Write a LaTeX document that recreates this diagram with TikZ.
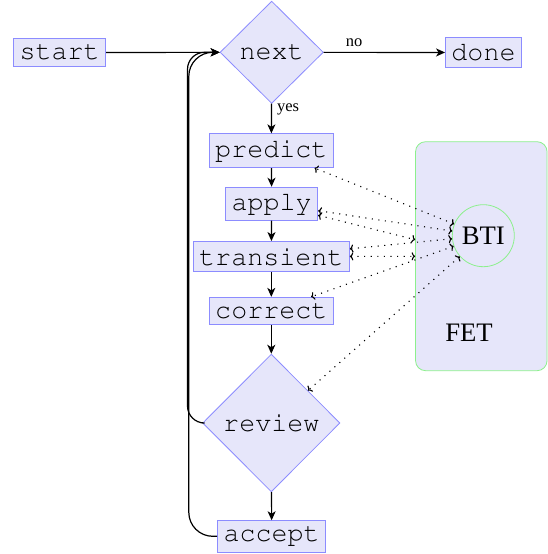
\documentclass[tikz,border=0pt]{standalone}
\usepackage{fontspec}
\setmainfont{Liberation Serif}
\setmonofont{Liberation Mono}
\usetikzlibrary{shapes.geometric,arrows.meta}
\definecolor{boxfill}{HTML}{E6E6FA}
\definecolor{boxdraw}{HTML}{8C8CFF}
\definecolor{fetdraw}{HTML}{8CF08C}
\newcommand{\crfont}{\fontencoding{OT1}\fontfamily{pcr}\fontseries{m}\fontshape{n}\fontsize{26.7pt}{30pt}\selectfont}
\tikzset{
  blk/.style={draw=boxdraw, fill=boxfill, line width=0.8pt, inner xsep=6pt, inner ysep=6pt,
    font=\crfont},
  dec/.style={diamond, draw=boxdraw, fill=boxfill, line width=0.8pt, inner sep=0pt,
    font=\crfont},
  flow/.style={line width=1.2pt, -{Stealth[length=9pt,width=8pt,inset=2.5pt]}},
  infl/.style={line width=1.1pt, dash pattern=on 1.1pt off 5.5pt,
    >={To[length=3.5pt,width=8pt]}, <->},
  lbl/.style={font=\fontsize{16.5pt}{18pt}\selectfont, inner sep=2pt},
  big/.style={font=\fontsize{26.7pt}{30pt}\selectfont, inner sep=0pt},
}
\begin{document}
\begin{tikzpicture}[x=1pt,y=-1pt]
\useasboundingbox (0,0) rectangle (548,554);
% flow nodes
\node[blk] (start) at (59.7,52.5) {start};
\node[dec, minimum width=103.3pt, minimum height=102.3pt] (next) at (271.7,52.3) {next};
\node[blk] (done) at (483.5,52.5) {done};
\node[blk] (predict) at (271.3,150.7) {predict};
\node[blk] (apply) at (271.7,203.7) {apply};
\node[blk] (transient) at (271.3,256.5) {transient};
\node[blk] (correct) at (271.3,311) {correct};
\node[dec, minimum width=137.3pt, minimum height=137.7pt] (review) at (271.3,423) {review};
\node[blk] (accept) at (271.7,536.3) {accept};
% FET block
\node[draw=fetdraw, fill=boxfill, rounded corners=10pt, line width=0.8pt,
      minimum width=131.5pt, minimum height=229pt, inner sep=0pt] (fet) at (481.3,256.2) {};
\node[big] (fettext) at (469,333) {FET};
\node[circle, draw=fetdraw, fill=boxfill, line width=0.8pt, minimum size=62pt,
      big] (bti) at (483.3,235.7) {BTI};
% loop coordinates
\coordinate (loopA) at (187.5,300);
\coordinate (loopB) at (188.8,300);
% flow connectors
\draw[flow] (start) -- (next);
\draw[flow] (next) -- node[lbl, above, pos=0.25, yshift=3pt] {no} (done);
\draw[flow] (next) -- node[lbl, anchor=west, pos=0.2, xshift=3pt] {yes} (predict);
\draw[flow] (predict) -- (apply);
\draw[flow] (apply) -- (transient);
\draw[flow] (transient) -- (correct);
\draw[flow] (correct) -- (review);
\draw[flow] (review) -- (accept);
\draw[flow, rounded corners=17pt] (review.west) -| (loopA |- next.west) -- (next.west);
\draw[flow, rounded corners=24pt] (accept.west) -| (loopB |- next.west) -- (next.west);
% influence connectors
\draw[infl] (bti) -- (predict);
\draw[infl] (bti) -- (apply);
\draw[infl] (bti) -- (transient);
\draw[infl] (bti) -- (correct);
\draw[infl] (bti) -- (review);
\draw[infl] (apply) -- (fet);
\draw[infl] (transient) -- (fet);
\end{tikzpicture}
\end{document}
